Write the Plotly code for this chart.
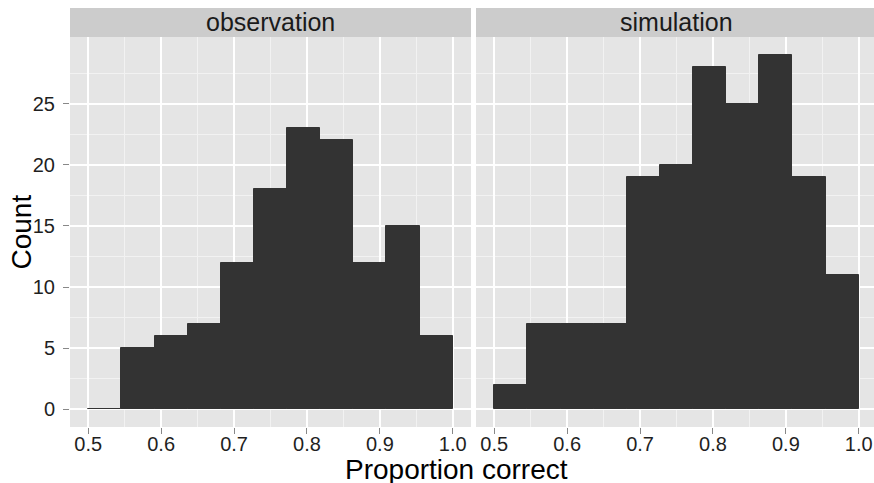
import numpy as np
import plotly.graph_objects as go
from plotly.subplots import make_subplots

# Histogram of proportion correct, 11 equal-width bins spanning 0.5 to 1.0
bin_start = 0.5
bin_end = 1.0
n_bins = 11
panels = ["observation", "simulation"]
observation_counts = [0, 5, 6, 7, 12, 18, 23, 22, 12, 15, 6]
simulation_counts = [2, 7, 7, 7, 19, 20, 28, 25, 29, 19, 11]
x_ticks = [0.5, 0.6, 0.7, 0.8, 0.9, 1.0]
x_tick_labels = ["0.5", "0.6", "0.7", "0.8", "0.9", "1.0"]
y_ticks = [0, 5, 10, 15, 20, 25]
y_tick_labels = ["0", "5", "10", "15", "20", "25"]

width = (bin_end - bin_start) / n_bins
centers = bin_start + width * (np.arange(n_bins) + 0.5)

W, H = 874, 483
ML, MR, MT, MB = 70, 0, 37, 56
pw, ph = W - ML - MR, H - MT - MB

BAR = "#333333"
PANEL_BG = "#E5E5E5"
STRIP_BG = "#CCCCCC"
FONT = "Liberation Sans, Arial, sans-serif"

fig = make_subplots(rows=1, cols=2, shared_yaxes=True, horizontal_spacing=0.0)

for i, counts in enumerate([observation_counts, simulation_counts]):
    fig.add_trace(
        go.Bar(
            x=centers, y=counts, width=width,
            marker=dict(color=BAR, line=dict(color=BAR, width=1)),
            showlegend=False, hoverinfo="x+y",
        ),
        row=1, col=i + 1,
    )

# panel geometry (pixels)
p1_left, p1_right = 70, 471
p2_left = 476
px_per_unit = (p1_right - p1_left) / 0.55
x_lo = 0.475
x_hi_2 = x_lo + (W - p2_left) / px_per_unit

axis_common = dict(
    showgrid=True, gridcolor="white", gridwidth=1.6,
    minor=dict(showgrid=True, gridcolor="#F2F2F2", gridwidth=1),
    zeroline=False, showline=False,
    ticks="outside", ticklen=6, tickwidth=1, tickcolor="#888888",
    tickfont=dict(family=FONT, size=20, color="#1f1f1f"),
)

fig.update_xaxes(
    **axis_common, tickvals=x_ticks, ticktext=x_tick_labels, ticklabelstandoff=-7,
)
fig.update_xaxes(minor=dict(tickvals=[0.55, 0.65, 0.75, 0.85, 0.95]))
fig.update_xaxes(domain=[0, (p1_right - ML) / pw], range=[x_lo, 1.025], row=1, col=1)
fig.update_xaxes(domain=[(p2_left - ML) / pw, 1], range=[x_lo, x_hi_2], row=1, col=2)

fig.update_yaxes(
    **axis_common, tickvals=y_ticks, ticktext=y_tick_labels, range=[-1.45, 30.45],
    ticklabelstandoff=4,
)
fig.update_yaxes(minor=dict(tickvals=[2.5, 7.5, 12.5, 17.5, 22.5, 27.5]))
fig.update_yaxes(showticklabels=False, ticks="", row=1, col=2)

shapes = []
annotations = []
strip_h = 29 / ph
for i, name in enumerate(panels):
    xref = "x domain" if i == 0 else "x2 domain"
    shapes.append(dict(type="rect", xref=xref, yref="paper", x0=0, x1=1,
                       y0=1, y1=1 + strip_h, fillcolor=STRIP_BG, line=dict(width=0),
                       layer="below"))
    if i == 0:
        cx = (p1_left + p1_right) / 2
    else:
        cx = p2_left + (p1_right - p1_left) / 2
    annotations.append(dict(text=name, xref="paper", yref="paper",
                            x=(cx - ML) / pw, y=1 + strip_h / 2,
                            xanchor="center", yanchor="middle", showarrow=False,
                            font=dict(family=FONT, size=25, color="#1a1a1a")))

annotations.append(dict(text="Proportion correct", xref="paper", yref="paper",
                        x=(456.5 - ML) / pw, y=-(469 - (MT + ph)) / ph,
                        xanchor="center", yanchor="middle", showarrow=False,
                        font=dict(family=FONT, size=28, color="black")))
annotations.append(dict(text="Count", xref="paper", yref="paper",
                        x=(20.5 - ML) / pw, y=0.5, textangle=-90,
                        xanchor="center", yanchor="middle", showarrow=False,
                        font=dict(family=FONT, size=28, color="black")))

fig.update_layout(
    width=W, height=H,
    margin=dict(l=ML, r=MR, t=MT, b=MB),
    paper_bgcolor="white", plot_bgcolor=PANEL_BG,
    bargap=0, shapes=shapes, annotations=annotations,
    font=dict(family=FONT),
)

fig.write_html("out.html")
